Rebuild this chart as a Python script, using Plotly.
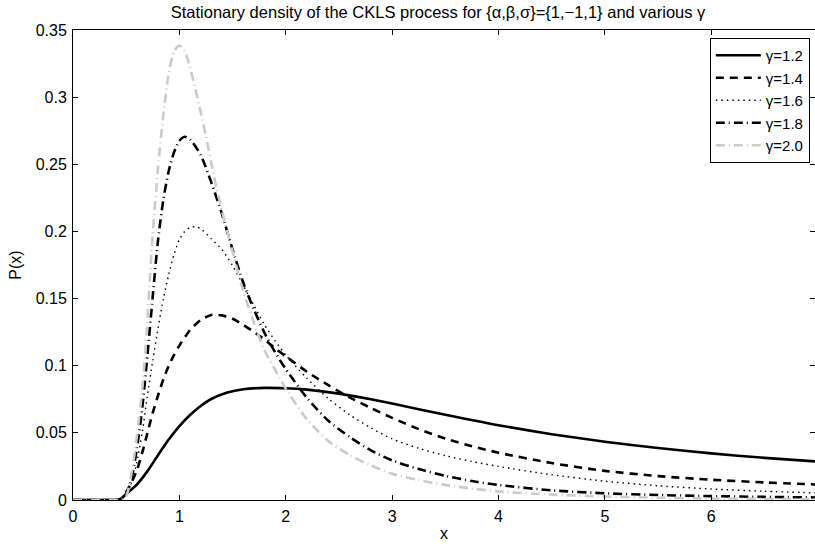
import plotly.graph_objects as go

# ---- data ----
x_g12 = [0, 0.2, 0.4, 0.45, 0.5, 0.6, 0.7, 0.8, 0.9, 1.0, 1.1, 1.2, 1.3, 1.45, 1.6, 1.8, 2.0, 2.2,
         2.5, 2.8, 3.0, 3.5, 4.0, 4.5, 5.0, 5.5, 6.0, 6.5, 7.0]
y_g12 = [0, 0, 0, 0.001, 0.0045, 0.0115, 0.0215, 0.0335, 0.0450, 0.0550, 0.0633, 0.0700, 0.0752,
         0.0800, 0.0825, 0.0835, 0.0832, 0.0822, 0.0792, 0.0750, 0.0718, 0.0635, 0.0557, 0.0490,
         0.0434, 0.0387, 0.0347, 0.0314, 0.0286]

x_g14 = [0, 0.2, 0.4, 0.45, 0.5, 0.55, 0.6, 0.65, 0.7, 0.75, 0.8, 0.85, 0.9, 0.95, 1.0, 1.1, 1.2,
         1.3, 1.4, 1.5, 1.6, 1.7, 1.8, 1.9, 2.0, 2.2, 2.4, 2.6, 2.8, 3.0, 3.25, 3.5, 3.75, 4.0, 4.5,
         5.0, 5.5, 6.0, 6.5, 7.0]
y_g14 = [0, 0, 0, 0.0005, 0.006, 0.013, 0.022, 0.035, 0.050, 0.065, 0.078, 0.090, 0.100, 0.108,
         0.1150, 0.1265, 0.1340, 0.1378, 0.1375, 0.1350, 0.1305, 0.1252, 0.1195, 0.1130, 0.1070,
         0.0955, 0.0855, 0.0765, 0.0685, 0.0612, 0.0528, 0.0458, 0.0400, 0.0352, 0.0275, 0.0217,
         0.0178, 0.0151, 0.0131, 0.0115]

x_g16 = [0, 0.2, 0.4, 0.45, 0.5, 0.55, 0.6, 0.65, 0.7, 0.75, 0.8, 0.85, 0.9, 0.95, 1.0, 1.05, 1.1,
         1.15, 1.2, 1.3, 1.4, 1.5, 1.6, 1.7, 1.8, 1.9, 2.0, 2.2, 2.4, 2.6, 2.8, 3.0, 3.25, 3.5, 3.75,
         4.0, 4.5, 5.0, 5.5, 6.0, 6.5, 7.0]
y_g16 = [0, 0, 0, 0.0005, 0.004, 0.013, 0.028, 0.050, 0.078, 0.104, 0.128, 0.150, 0.168, 0.183,
         0.194, 0.200, 0.2030, 0.2035, 0.2020, 0.1945, 0.1865, 0.1745, 0.1600, 0.1450, 0.1305,
         0.1185, 0.1080, 0.0905, 0.0755, 0.0635, 0.0537, 0.0455, 0.0385, 0.0330, 0.0287, 0.0250,
         0.0188, 0.0140, 0.0106, 0.0082, 0.0065, 0.0052]

x_g18 = [0, 0.2, 0.4, 0.45, 0.5, 0.55, 0.6, 0.65, 0.7, 0.75, 0.8, 0.85, 0.9, 0.95, 1.0, 1.05, 1.1,
         1.2, 1.3, 1.4, 1.5, 1.6, 1.7, 1.8, 1.9, 2.0, 2.2, 2.4, 2.6, 2.8, 3.0, 3.25, 3.5, 3.75, 4.0,
         4.5, 5.0, 5.5, 6.0, 6.5, 7.0]
y_g18 = [0, 0, 0, 0.0005, 0.004, 0.016, 0.038, 0.068, 0.108, 0.152, 0.194, 0.224, 0.245, 0.259,
         0.2675, 0.2705, 0.2685, 0.2570, 0.2365, 0.2130, 0.1865, 0.1620, 0.1420, 0.1245, 0.1100,
         0.0975, 0.0760, 0.0590, 0.0470, 0.0370, 0.0295, 0.0230, 0.0180, 0.0141, 0.0112, 0.0072,
         0.0050, 0.0037, 0.0029, 0.0023, 0.0019]

x_g20 = [0, 0.2, 0.4, 0.45, 0.5, 0.55, 0.6, 0.65, 0.675, 0.7, 0.725, 0.75, 0.8, 0.85, 0.9, 0.95,
         1.0, 1.05, 1.1, 1.15, 1.2, 1.25, 1.3, 1.35, 1.4, 1.5, 1.6, 1.7, 1.8, 1.9, 2.0, 2.2, 2.4,
         2.6, 2.8, 3.0, 3.25, 3.5, 3.75, 4.0, 4.5, 5.0, 5.5, 6.0, 6.5, 7.0]
y_g20 = [0, 0, 0, 0.0005, 0.003, 0.020, 0.047, 0.082, 0.105, 0.135, 0.168, 0.198, 0.248, 0.287,
         0.318, 0.334, 0.3385, 0.3345, 0.3220, 0.3060, 0.2890, 0.2710, 0.2510, 0.2320, 0.2155,
         0.1850, 0.1555, 0.1320, 0.1115, 0.0970, 0.0830, 0.0600, 0.0440, 0.0335, 0.0258, 0.0195,
         0.0148, 0.0112, 0.0085, 0.0064, 0.0040, 0.0026, 0.0017, 0.0011, 0.0008, 0.0005]

labels = ["γ=1.2", "γ=1.4", "γ=1.6", "γ=1.8", "γ=2.0"]
xs = [x_g12, x_g14, x_g16, x_g18, x_g20]
ys = [y_g12, y_g14, y_g16, y_g18, y_g20]

x_ticks = [0, 1, 2, 3, 4, 5, 6, 7]
y_ticks = [0, 0.05, 0.1, 0.15, 0.2, 0.25, 0.3, 0.35]
y_ticktext = ["0", "0.05", "0.1", "0.15", "0.2", "0.25", "0.3", "0.35"]

styles = [
    dict(color="black", width=2.6, dash="solid"),
    dict(color="black", width=2.6, dash="8px,6px"),
    dict(color="black", width=1.4, dash="1.5px,4px"),
    dict(color="black", width=2.6, dash="9px,4px,1px,4px"),
    dict(color="rgb(206,202,197)", width=2.6, dash="9px,4px,1px,4px"),
]

FONT = "Liberation Sans, Arial, sans-serif"
FS = 16

fig = go.Figure()
for xv, yv, lab, st in zip(xs, ys, labels, styles):
    fig.add_trace(go.Scatter(x=xv, y=yv, mode="lines", name=lab,
                             line=dict(shape="spline", smoothing=0.7, **st)))

axis_common = dict(showline=True, linecolor="black", linewidth=1, mirror="allticks",
                   ticks="inside", ticklen=5, tickcolor="black", showgrid=False,
                   zeroline=False, tickfont=dict(family=FONT, size=FS, color="black"))

fig.update_layout(
    width=815, height=550,
    margin=dict(l=73, r=0, t=30, b=50),
    paper_bgcolor="white", plot_bgcolor="white",
    font=dict(family=FONT, size=FS, color="black"),
    title=dict(text="Stationary density of the CKLS process for {α,β,σ}={1,−1,1} and various γ",
               x=0.492, xref="paper", xanchor="center",
               y=1 - 12 / 550, yref="container", yanchor="middle",
               font=dict(family=FONT, size=16.5, color="black")),
    xaxis=dict(range=[0, 6.975], tickvals=x_ticks, ticktext=[str(v) for v in x_ticks],
               ticklabelstandoff=2,
               title=dict(text="x", standoff=3, font=dict(family=FONT, size=FS)), **axis_common),
    yaxis=dict(range=[0, 0.35], tickvals=y_ticks, ticktext=y_ticktext,
               ticklabelstandoff=2,
               title=dict(text="P(x)", standoff=10, font=dict(family=FONT, size=FS)), **axis_common),
    legend=dict(x=0.993, y=0.983, xanchor="right", yanchor="top",
                bordercolor="black", borderwidth=1, bgcolor="white",
                font=dict(family=FONT, size=15, color="black"),
                tracegroupgap=0, itemwidth=45),
    showlegend=True,
)

fig.write_html("out.html")
